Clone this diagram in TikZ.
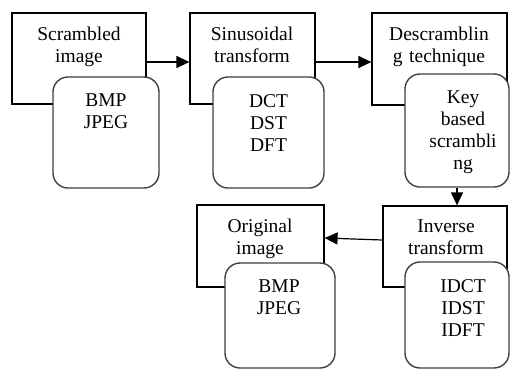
\documentclass[tikz,border=0pt]{standalone}
\usepackage{fontspec}
\setmainfont{Liberation Serif}
\usetikzlibrary{arrows.meta}
\begin{document}
\begin{tikzpicture}[x=1pt,y=-1pt,
  rectbox/.style={draw=black,line width=1.2pt,rectangle,inner sep=0pt},
  roundbox/.style={draw=black!75,line width=1.4pt,fill=white,rectangle,rounded corners=15pt,inner sep=0pt},
  lbl/.style={font=\fontsize{19.5}{22}\selectfont,text width=130pt,align=center,anchor=base,inner sep=0pt},
  conn/.style={line width=1.2pt,-{Triangle[length=13pt,width=12pt]}}]
\useasboundingbox (0,0) rectangle (510,370);
% rectangles
\node[rectbox,minimum width=134pt,minimum height=91pt] (r1) at (79,58.5) {};
\node[rectbox,minimum width=125pt,minimum height=91pt] (r2) at (252.5,58.5) {};
\node[rectbox,minimum width=135pt,minimum height=92pt] (r3) at (439.5,59) {};
\node[rectbox,minimum width=127pt,minimum height=82pt] (r4) at (260.5,246) {};
\node[rectbox,minimum width=124pt,minimum height=81pt] (r5) at (445,246.5) {};
% rounded boxes
\node[roundbox,minimum width=106pt,minimum height=111pt] (q1) at (106,132.5) {};
\node[roundbox,minimum width=111pt,minimum height=111pt] (q2) at (268.5,132.5) {};
\node[roundbox,minimum width=104pt,minimum height=113pt] (q3) at (457,130.5) {};
\node[roundbox,minimum width=110pt,minimum height=105pt] (q4) at (280,315.5) {};
\node[roundbox,minimum width=104pt,minimum height=106pt] (q5) at (457,315) {};
% texts
\node[lbl] (t1) at (79,40) {Scrambled\\image};
\node[lbl] (t2) at (252,40) {Sinusoidal\\transform};
\node[lbl] (t3) at (439,40) {Descramblin\\g technique};
\node[lbl] (t4) at (260,232) {Original\\image};
\node[lbl] (t5) at (446,232) {Inverse\\transform};
\node[lbl] (u1) at (106,106) {BMP\\JPEG};
\node[lbl] (u2) at (268.5,107) {DCT\\DST\\DFT};
\node[lbl] (u3) at (463,103) {Key\\based\\scrambli\\ng};
\node[lbl] (u4) at (279,292) {BMP\\JPEG};
\node[lbl] (u5) at (463,292) {IDCT\\IDST\\IDFT};
% connectors
\draw[conn] ([yshift=-3.5pt]r1.east) -- ([yshift=-3.5pt]r2.west);
\draw[conn] ([yshift=-3.5pt]r2.east) -- ([yshift=-3pt]r3.west);
\draw[conn] (q3.south) -- (q3.south |- r5.north);
\draw[conn] ([yshift=6.5pt]r5.west) -- ([yshift=8pt]r4.east);
\end{tikzpicture}
\end{document}
